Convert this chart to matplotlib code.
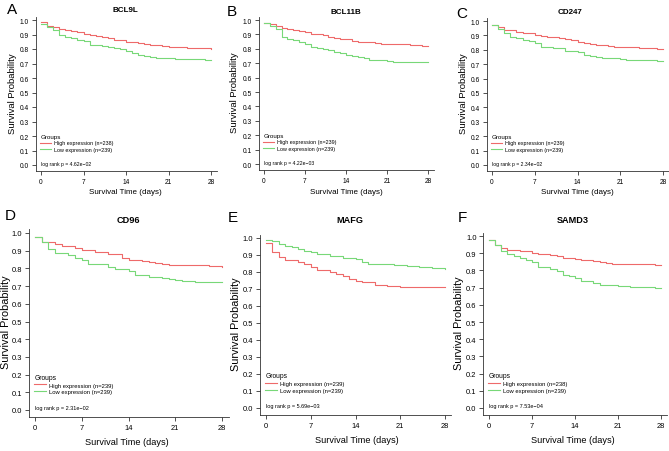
import matplotlib
matplotlib.use("Agg")
import matplotlib.pyplot as plt
from matplotlib.lines import Line2D

plt.rcParams['font.family'] = ['Liberation Sans', 'DejaVu Sans']

days = list(range(29))

panels = ["A", "B", "C", "D", "E", "F"]
genes = ["BCL9L", "BCL11B", "CD247", "CD96", "MAFG", "SAMD3"]
pvalues = ["4.62e\u221202", "4.22e\u221203", "2.34e\u221202", "2.31e\u221202", "5.69e\u221203", "7.53e\u221204"]
n_high = [238, 239, 239, 239, 239, 238]
n_low = [239, 239, 239, 239, 239, 239]

high_bcl9l = [0.985, 0.96, 0.95, 0.94, 0.93, 0.925, 0.915, 0.905, 0.895, 0.89, 0.885, 0.875, 0.865, 0.86, 0.85,
              0.845, 0.84, 0.835, 0.83, 0.825, 0.82, 0.815, 0.815, 0.815, 0.81, 0.81, 0.81, 0.805, 0.80]
low_bcl9l = [0.975, 0.955, 0.93, 0.895, 0.885, 0.875, 0.865, 0.855, 0.83, 0.825, 0.82, 0.815, 0.81, 0.80, 0.785,
             0.77, 0.76, 0.755, 0.745, 0.74, 0.738, 0.735, 0.73, 0.728, 0.728, 0.728, 0.728, 0.727, 0.727]

high_bcl11b = [0.98, 0.97, 0.955, 0.945, 0.935, 0.93, 0.925, 0.915, 0.905, 0.90, 0.895, 0.885, 0.875, 0.87, 0.865,
               0.855, 0.85, 0.845, 0.845, 0.84, 0.835, 0.835, 0.835, 0.83, 0.83, 0.825, 0.825, 0.822, 0.82]
low_bcl11b = [0.98, 0.96, 0.935, 0.88, 0.87, 0.86, 0.85, 0.83, 0.81, 0.805, 0.80, 0.795, 0.78, 0.77, 0.76,
              0.75, 0.745, 0.735, 0.725, 0.72, 0.72, 0.715, 0.71, 0.71, 0.71, 0.71, 0.71, 0.71, 0.71]

high_cd247 = [0.975, 0.955, 0.94, 0.935, 0.925, 0.92, 0.915, 0.905, 0.895, 0.89, 0.89, 0.88, 0.875, 0.865, 0.855,
              0.85, 0.84, 0.835, 0.83, 0.825, 0.82, 0.82, 0.82, 0.818, 0.815, 0.815, 0.81, 0.808, 0.805]
low_cd247 = [0.975, 0.945, 0.915, 0.89, 0.88, 0.87, 0.86, 0.85, 0.82, 0.82, 0.815, 0.81, 0.795, 0.79, 0.785,
             0.765, 0.755, 0.75, 0.745, 0.742, 0.74, 0.735, 0.73, 0.73, 0.73, 0.728, 0.727, 0.725, 0.725]

high_cd96 = [0.975, 0.95, 0.95, 0.94, 0.925, 0.925, 0.915, 0.905, 0.905, 0.89, 0.89, 0.88, 0.88, 0.86, 0.85,
             0.845, 0.84, 0.835, 0.83, 0.825, 0.82, 0.82, 0.82, 0.82, 0.82, 0.82, 0.815, 0.812, 0.81]
low_cd96 = [0.975, 0.95, 0.91, 0.885, 0.885, 0.875, 0.86, 0.85, 0.825, 0.825, 0.825, 0.81, 0.795, 0.795, 0.785,
            0.76, 0.76, 0.75, 0.75, 0.745, 0.74, 0.735, 0.73, 0.73, 0.725, 0.725, 0.725, 0.723, 0.723]

high_mafg = [0.97, 0.92, 0.89, 0.87, 0.87, 0.86, 0.85, 0.83, 0.81, 0.81, 0.80, 0.79, 0.775, 0.76, 0.75,
             0.74, 0.74, 0.725, 0.725, 0.72, 0.72, 0.71, 0.71, 0.71, 0.71, 0.71, 0.71, 0.71, 0.71]
low_mafg = [0.99, 0.98, 0.965, 0.955, 0.945, 0.935, 0.925, 0.915, 0.905, 0.905, 0.895, 0.895, 0.885, 0.88, 0.875,
            0.86, 0.85, 0.85, 0.845, 0.845, 0.84, 0.84, 0.835, 0.835, 0.83, 0.83, 0.825, 0.825, 0.82]

high_samd3 = [0.975, 0.95, 0.93, 0.92, 0.92, 0.915, 0.91, 0.90, 0.895, 0.895, 0.89, 0.885, 0.875, 0.87, 0.865,
              0.86, 0.86, 0.855, 0.85, 0.845, 0.84, 0.84, 0.84, 0.84, 0.84, 0.835, 0.835, 0.832, 0.83]
low_samd3 = [0.975, 0.945, 0.915, 0.895, 0.885, 0.875, 0.86, 0.85, 0.82, 0.82, 0.81, 0.795, 0.775, 0.765, 0.755,
             0.74, 0.74, 0.725, 0.715, 0.715, 0.715, 0.71, 0.71, 0.705, 0.705, 0.705, 0.705, 0.70, 0.695]

high_series = [high_bcl9l, high_bcl11b, high_cd247, high_cd96, high_mafg, high_samd3]
low_series = [low_bcl9l, low_bcl11b, low_cd247, low_cd96, low_mafg, low_samd3]

xticks = [0, 7, 14, 21, 28]
yticks = [i / 10 for i in range(11)]

W, H = 669, 452
fig = plt.figure(figsize=(W / 100, H / 100), dpi=100)

RED = "#EE6A6A"
GREEN = "#78D878"
XL = (-0.9, 29.0)
YL = (-0.04, 1.02)

# pixel anchors: x of day 0, x of day 28, y of 1.0, y of 0.0
anchors = [
    (41, 211, 21, 166),
    (264, 428, 21, 165),
    (492, 663, 22, 166),
    (35, 222, 234, 411),
    (266, 445, 239, 409),
    (489, 661, 237, 409),
]
letter_pos = [(12, 10), (232, 12), (462, 14), (10, 216), (233, 218), (462, 218)]
title_pos = [(125, 11), (346, 12), (570, 13), (128, 221), (350, 221), (573, 221)]
xlabel_pos = [(125, 193), (346, 193), (577, 193), (127, 443), (357, 441), (573, 441)]
ylabel_x = [13, 235, 463, 6, 236, 459]

for i in range(6):
    x0, x28, y1, y0 = anchors[i]
    sx = (x28 - x0) / 28.0
    sy = (y0 - y1)
    left = x0 + XL[0] * sx
    right = x0 + XL[1] * sx
    top = y1 - (YL[1] - 1.0) * sy
    bottom = y0 - YL[0] * sy
    ax = fig.add_axes([left / W, 1 - bottom / H, (right - left) / W, (bottom - top) / H])
    big = i >= 3
    tfs = 5.4 if big else 4.8
    ax.step(days, high_series[i], where="post", color=RED, lw=0.8)
    ax.step(days, low_series[i], where="post", color=GREEN, lw=0.8)
    ax.set_xlim(*XL)
    ax.set_ylim(*YL)
    ax.set_xticks(xticks)
    ax.set_yticks(yticks)
    ax.set_yticklabels([f"{v:.1f}" for v in yticks])
    for s in ("top", "right"):
        ax.spines[s].set_visible(False)
    for s in ("left", "bottom"):
        ax.spines[s].set_linewidth(0.6)
        ax.spines[s].set_color("#333333")
    ax.tick_params(labelsize=tfs, length=3, width=0.6, pad=2, colors="#333333")
    ax.tick_params(labelcolor="black")

    handles = [Line2D([], [], color=RED, lw=0.8), Line2D([], [], color=GREEN, lw=0.8)]
    labels = [f"High expression (n={n_high[i]})", f"Low expression (n={n_low[i]})"]
    lfs = 4.2 if big else 3.9
    leg = ax.legend(handles, labels, title="Groups", loc="lower left",
                    bbox_to_anchor=(0.02, 0.115), frameon=False, fontsize=lfs,
                    title_fontsize=lfs + 0.6, handlelength=2.0, handletextpad=0.6,
                    labelspacing=0.3, borderpad=0.2, borderaxespad=0.0, alignment="left")
    ax.text(0.03, 0.05, f"log rank p = {pvalues[i]}", transform=ax.transAxes,
            fontsize=lfs - 0.2, ha="left", va="center")

    fig.text(letter_pos[i][0] / W, 1 - letter_pos[i][1] / H, panels[i],
             fontsize=11, ha="center", va="center")
    fig.text(title_pos[i][0] / W, 1 - title_pos[i][1] / H, genes[i],
             fontsize=6.6 if big else 5.8, fontweight="bold", ha="center", va="center")
    fig.text(xlabel_pos[i][0] / W, 1 - xlabel_pos[i][1] / H, "Survival Time (days)",
             fontsize=6.6 if big else 5.8, ha="center", va="center")
    yc = (y1 + y0) / 2
    fig.text(ylabel_x[i] / W, 1 - yc / H, "Survival Probability",
             fontsize=7.8 if big else 6.8, ha="center", va="center", rotation=90)

fig.savefig("out.png", dpi=100)
